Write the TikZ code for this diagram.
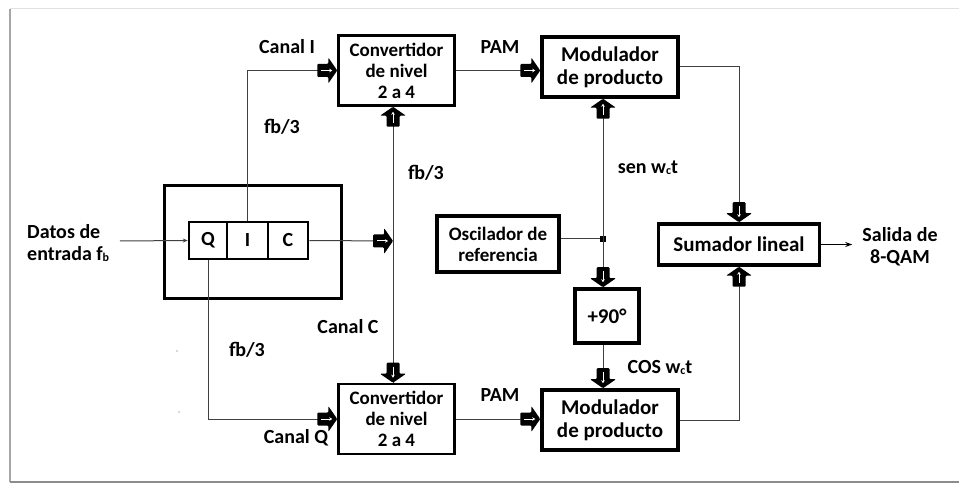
\documentclass[tikz,border=0pt]{standalone}
\usepackage{fontspec}
\setmainfont{Carlito}
\usetikzlibrary{arrows.meta}
\newcommand{\subc}[1]{\raisebox{-1pt}{\fontsize{12}{12}\selectfont #1}}
\begin{document}
\begin{tikzpicture}[x=1pt,y=-1pt,
  lbl/.style={font=\fontsize{20}{22}\selectfont\bfseries, inner sep=0pt},
  blk/.style={draw, inner sep=0pt, align=center, font=\fontsize{19}{21}\selectfont\bfseries},
  conv/.style={blk, line width=2.5pt, minimum width=116pt, minimum height=70pt},
  modb/.style={blk, line width=3.5pt, minimum width=136pt, minimum height=60pt, font=\fontsize{21}{23}\selectfont\bfseries},
  thickb/.style={blk, line width=3.5pt},
  cell/.style={draw, line width=2.5pt, inner sep=0pt, minimum height=37pt, font=\fontsize{20}{22}\selectfont\bfseries},
  wire/.style={line width=1pt, draw=black!75},
  barr/.pic={
    \fill[black, rounded corners=1pt] (-20,-6.5)--(-9,-6.5)--(-9,-13)--(0,0)--(-9,13)--(-9,6.5)--(-20,6.5)--cycle;
    \draw[white,line width=1pt,-{Stealth[length=3pt,width=3.5pt]}] (-16,0)--(-5,0);
  }]
\useasboundingbox (0,0) rectangle (959,486);
% frame
\fill[white] (10,9) rectangle (959,482);
\draw[black!12, line width=1pt] (10,9) -- (959,9);
\draw[black!35, line width=1.5pt] (10,482) -- (10,9);
\draw[black!45, line width=2.5pt] (10,482) -- (959,482);

% blocks
\node[conv] (convI) at (396.5,70.5) {Convertidor\\de nivel\\2 a 4};
\node[conv] (convQ) at (396.5,419) {Convertidor\\de nivel\\2 a 4};
\node[modb] (modI) at (610,67) {Modulador\\de producto};
\node[modb] (modQ) at (610,420) {Modulador\\de producto};
\node[thickb, minimum width=161pt, minimum height=41pt, font=\fontsize{21}{23}\selectfont\bfseries] (sum) at (739,244.5) {Sumador lineal};
\node[thickb, minimum width=122pt, minimum height=56pt] (osc) at (498,244) {Oscilador de\\referencia};
\node[thickb, minimum width=64pt, minimum height=54pt, font=\fontsize{21}{23}\selectfont\bfseries] (p90) at (607,316) {+90°};
\node[draw, line width=3pt, minimum width=177pt, minimum height=113pt] (outer) at (253,242) {};
\node[cell, minimum width=38pt] (q) at (208,240.5) {Q};
\node[cell, minimum width=41pt] (i) at (247.5,240.5) {I};
\node[cell, minimum width=40pt] (c) at (288,240.5) {C};

% helper coordinates
\coordinate (vx) at (393,241);
\coordinate (jx) at (603,239);
\coordinate (inp) at (120,241);

% wires
\draw[wire,-{Stealth[length=5pt,width=4pt]}] (inp) -- (q.west);
\draw[wire] (i.north) |- (convI.west);
\pic at (convI.west) {barr};
\draw[wire] (q.south) |- (convQ.west);
\pic at (convQ.west) {barr};
\draw[wire] (c.east) -- (vx);
\pic at (vx) {barr};
\draw[wire] (convI.south -| vx) -- (convQ.north -| vx);
\pic[rotate=90] at (convI.south -| vx) {barr};
\pic[rotate=-90] at (convQ.north -| vx) {barr};
\draw[wire] (convI.east) -- (convI.east -| modI.west);
\pic at (convI.east -| modI.west) {barr};
\draw[wire] (convQ.east) -- (convQ.east -| modQ.west);
\pic at (convQ.east -| modQ.west) {barr};
\draw[wire] (modI.east) -| (sum.north);
\pic[rotate=-90] at (sum.north) {barr};
\draw[wire] (modQ.east) -| (sum.south);
\pic[rotate=90] at (sum.south) {barr};
\draw[wire] (osc.east |- jx) -- (jx);
\fill (jx) +(-3,-3) rectangle +(3,3);
\draw[wire] (modI.south -| jx) -- (p90.north -| jx);
\pic[rotate=90] at (modI.south -| jx) {barr};
\pic[rotate=-90] at (p90.north -| jx) {barr};
\draw[wire] (p90.south -| jx) -- (modQ.north -| jx);
\pic[rotate=-90] at (modQ.north -| jx) {barr};
\draw[line width=1.2pt,-{Stealth[length=7pt,width=5pt]}] (sum.east) -- ++(31,0) coordinate (outp);

% labels
\node[lbl] (lcI) at (287,47) {Canal I};
\node[lbl] (lfb1) at (282,127) {fb/3};
\node[lbl] (lpam1) at (500,47) {PAM};
\node[lbl] (lfb2) at (426,173) {fb/3};
\node[lbl] (lsen) at (648,168) {sen w\subc{c}t};
\node[lbl, align=left, anchor=west] (ldatos) at (27,243) {Datos de\\entrada f\subc{b}};
\node[lbl, align=center] (lsal) at (900,247) {Salida de\\8-QAM};
\node[lbl] (lcC) at (348,327) {Canal C};
\node[lbl] (lfb3) at (247,350) {fb/3};
\node[lbl] (lcos) at (660,367) {COS w\subc{c}t};
\node[lbl] (lpam2) at (500,395) {PAM};
\node[lbl] (lcQ) at (296,438) {Canal Q};
\fill[black!30] (177,351) circle (0.8);
\fill[black!30] (179,412) circle (0.8);
\end{tikzpicture}
\end{document}
